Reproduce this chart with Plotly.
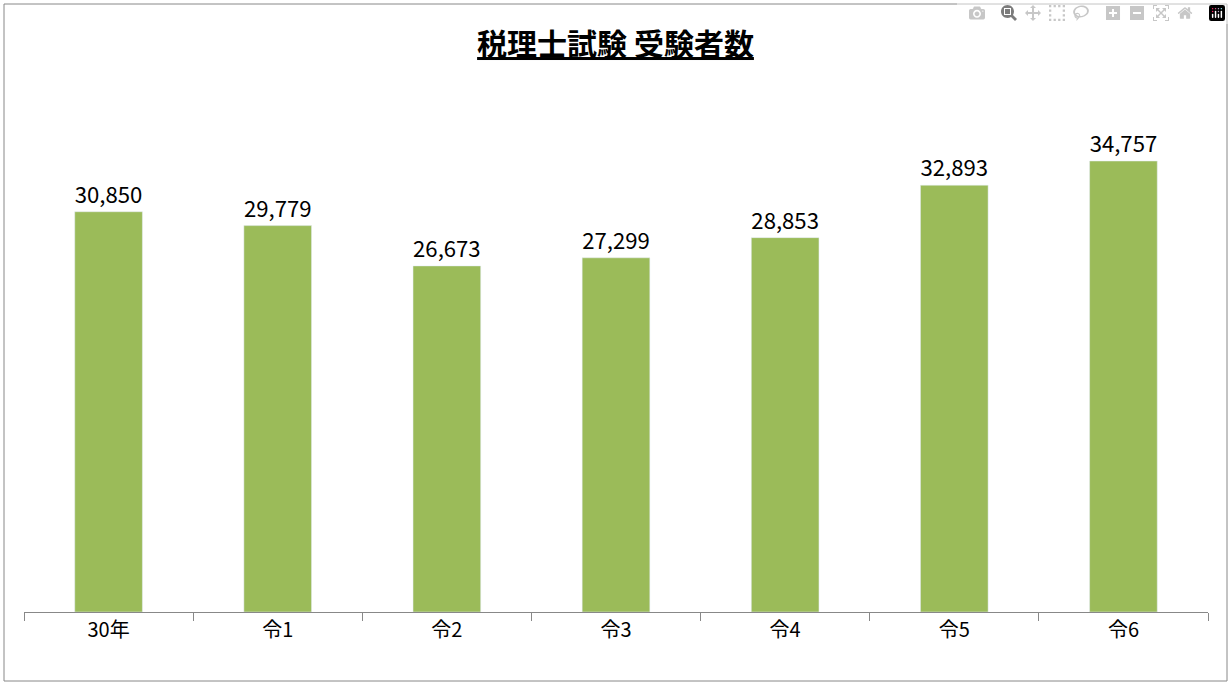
import plotly.graph_objects as go

categories = ["30年", "令1", "令2", "令3", "令4", "令5", "令6"]
values = [30850, 29779, 26673, 27299, 28853, 32893, 34757]
labels = [f"{v:,}" for v in values]

fig = go.Figure(go.Bar(
    x=categories, y=values, text=labels, textposition="outside",
    marker_color="#9BBB59", cliponaxis=False,
    textfont=dict(size=26, color="black"),
))
fig.update_layout(
    width=1231, height=685,
    paper_bgcolor="white", plot_bgcolor="white",
    margin=dict(l=24, r=23, t=93, b=73),
    bargap=0.6, showlegend=False,
    font=dict(family="Noto Sans CJK JP", color="black"),
    title=dict(text="<u><b>税理士試験 受験者数</b></u>", x=0.5, xanchor="center",
               y=0.935, yanchor="middle", font=dict(size=30, color="black")),
    shapes=[dict(type="rect", xref="paper", yref="paper", x0=-20/1184, x1=1+19/1184,
                 y0=-69/519, y1=1+89/519, line=dict(color="#888", width=1))],
)
fig.update_xaxes(showline=True, linecolor="#888", ticks="outside", tickson="boundaries",
                 ticklen=8, tickcolor="#888", tickfont=dict(size=20))
fig.update_yaxes(visible=False, range=[0, 40000])
fig.write_html("out.html", post_script="document.body.style.margin='0';document.body.style.overflow='hidden';")
